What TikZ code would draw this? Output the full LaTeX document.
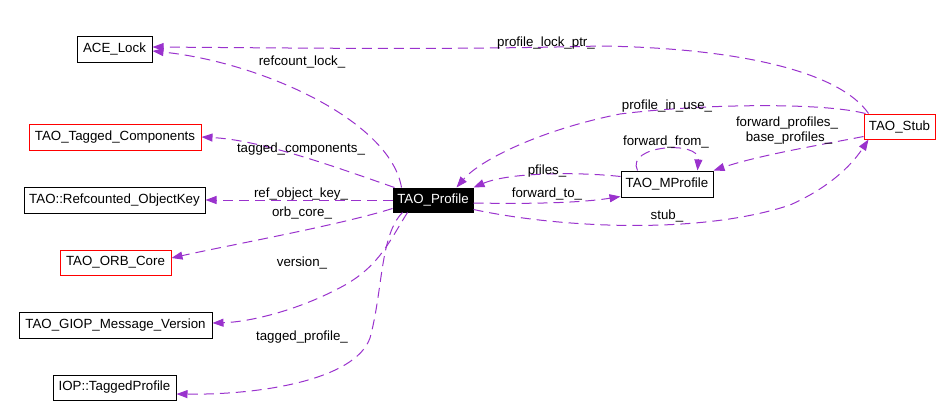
\documentclass[tikz,border=0pt]{standalone}
\usepackage{fontspec}
\setmainfont{Liberation Sans}
\usetikzlibrary{arrows.meta}
\definecolor{edgec}{HTML}{9A32CD}
\begin{document}
\begin{tikzpicture}[x=1pt,y=-1pt,
  box/.style={draw=black,line width=1pt,inner sep=0pt,font=\fontsize{13.3}{16}\selectfont,text=black,fill=white},
  redbox/.style={box,draw=red},
  blackbox/.style={box,fill=black,text=white},
  edge/.style={draw=edgec,line width=1pt,dash pattern=on 10pt off 6pt,-{Triangle[length=11pt,width=8pt]}},
  lbl/.style={font=\fontsize{13.3}{16}\selectfont,inner sep=0pt,text=black}]
\useasboundingbox (0,0) rectangle (952,418);
% nodes
\node[box,minimum width=75pt,minimum height=26pt] (ace) at (114.5,49) {ACE\_Lock};
\node[redbox,minimum width=172pt,minimum height=26pt] (tc) at (115,137) {TAO\_Tagged\_Components};
\node[box,minimum width=181pt,minimum height=26pt] (rok) at (114.5,200) {TAO::Refcounted\_ObjectKey};
\node[redbox,minimum width=111pt,minimum height=25pt] (orb) at (115.5,262.5) {TAO\_ORB\_Core};
\node[box,minimum width=193pt,minimum height=26pt] (giop) at (115.5,325) {TAO\_GIOP\_Message\_Version};
\node[box,minimum width=123pt,minimum height=25pt] (iop) at (114.5,387.5) {IOP::TaggedProfile};
\node[blackbox,minimum width=80pt,minimum height=24pt] (prof) at (433,200) {TAO\_Profile};
\node[box,minimum width=92pt,minimum height=26pt] (mp) at (667,184) {TAO\_MProfile};
\node[redbox,minimum width=71pt,minimum height=25pt] (stub) at (899.5,126.5) {TAO\_Stub};
% edges
\draw[edge] ([xshift=9pt]prof.north west) .. controls (390,120) and (260,62) .. ([yshift=-2pt]ace.east);
\draw[edge] ([xshift=5pt]stub.north west) .. controls (840,72) and (740,48) .. (600,46) .. controls (450,50) and (300,48) .. ([yshift=2pt]ace.east);
\draw[edge] ([xshift=2pt]prof.north west) .. controls (330,165) and (260,140) .. (tc.east);
\draw[edge] (prof.west) -- (rok.east);
\draw[edge] ([yshift=4pt]prof.south west) .. controls (340,225) and (230,245) .. ([yshift=4.5pt]orb.east);
\draw[edge] ([xshift=15pt]prof.south west) .. controls (390,240) and (380,265) .. (345,285) .. controls (300,310) and (250,322) .. ([yshift=2pt]giop.east);
\draw[edge] ([xshift=10pt]prof.south west) .. controls (380,235) and (383,290) .. (370,338) .. controls (355,380) and (260,395) .. ([yshift=-6.5pt]iop.east);
\draw[edge] ([xshift=2pt]stub.north west) .. controls (820,102) and (700,104) .. (620,114) .. controls (540,130) and (480,160) .. ([xshift=-17pt]prof.north east);
\draw[edge] ([yshift=-6pt]mp.north west) .. controls (580,172) and (510,172) .. (prof.north east);
\draw[edge] ([yshift=-3pt]prof.east) .. controls (530,204) and (580,203) .. ([yshift=1pt]mp.south west);
\draw[edge] ([xshift=17pt]mp.north west) .. controls (625,145) and (700,140) .. ([xshift=-16pt]mp.north east);
\draw[edge] ([yshift=3pt]stub.south west) .. controls (820,145) and (760,155) .. (mp.north east);
\draw[edge] ([yshift=3pt]prof.south east) .. controls (560,228) and (700,235) .. (790,205) .. controls (835,185) and (855,160) .. ([xshift=5pt]stub.south west);
% labels
\node[lbl] (l1) at (546,43) {profile\_lock\_ptr\_};
\node[lbl] (l2) at (302,62) {refcount\_lock\_};
\node[lbl] (l3) at (301,149) {tagged\_components\_};
\node[lbl] (l4) at (301,194) {ref\_object\_key\_};
\node[lbl] (l5) at (302,213) {orb\_core\_};
\node[lbl] (l6) at (302,263) {version\_};
\node[lbl] (l7) at (302,337) {tagged\_profile\_};
\node[lbl] (l8) at (667,106) {profile\_in\_use\_};
\node[lbl] (l9) at (787,123) {forward\_profiles\_};
\node[lbl] (l10) at (789,138) {base\_profiles\_};
\node[lbl] (l11) at (666,142) {forward\_from\_};
\node[lbl] (l12) at (547,171) {pfiles\_};
\node[lbl] (l13) at (547,194) {forward\_to\_};
\node[lbl] (l14) at (667,216) {stub\_};
\end{tikzpicture}
\end{document}
